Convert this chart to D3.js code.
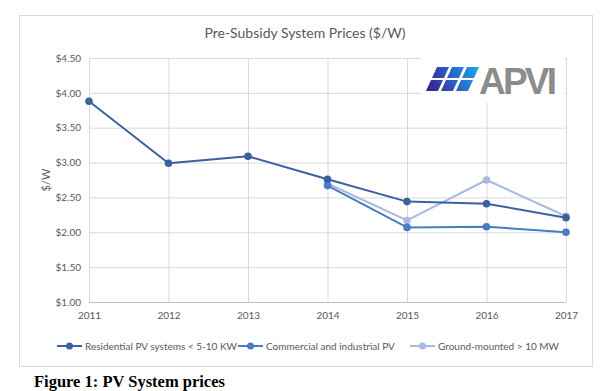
<!DOCTYPE html>
<html><head><meta charset="utf-8">
<script src="https://cdn.jsdelivr.net/npm/d3@7"></script>
<style>body{margin:0;background:#fff}svg{display:block}</style>
</head><body>
<svg id="c" width="600" height="391"></svg>
<script>
const years = [2011, 2012, 2013, 2014, 2015, 2016, 2017];
const residential = [3.88, 2.99, 3.09, 2.76, 2.44, 2.41, 2.21];
const commercial = [null, null, null, 2.67, 2.07, 2.08, 2.00];
const ground = [null, null, null, 2.70, 2.17, 2.75, 2.23];
const yTicks = [1.0, 1.5, 2.0, 2.5, 3.0, 3.5, 4.0, 4.5];
const seriesNames = ["Residential PV systems < 5-10 KW", "Commercial and industrial PV", "Ground-mounted > 10  MW"];
const seriesColors = ["#3b62a0", "#4a7cc4", "#a9badf"];
const seriesData = [residential, commercial, ground];

const svg = d3.select("#c");
const font = "Lato, 'Open Sans', sans-serif";
// outer frame
svg.append("rect").attr("x", 19.5).attr("y", 15.5).attr("width", 573).attr("height", 351)
  .attr("fill", "#fff").attr("stroke", "#d9d9d9");

const x = d3.scaleLinear().domain([2011, 2017]).range([89, 566]);
const y = d3.scaleLinear().domain([1, 4.5]).range([302, 58]);

// grid
svg.append("g").selectAll("line").data(yTicks).join("line")
  .attr("x1", x(2011)).attr("x2", x(2017)).attr("y1", d => y(d) + 0.5).attr("y2", d => y(d) + 0.5)
  .attr("stroke", d => d === 1 ? "#bfbfbf" : "#d9d9d9");
svg.append("g").selectAll("line").data(years).join("line")
  .attr("x1", d => x(d) + 0.5).attr("x2", d => x(d) + 0.5).attr("y1", y(4.5)).attr("y2", y(1))
  .attr("stroke", "#d9d9d9");

// axes labels
const yAxis = d3.axisLeft(y).tickValues(yTicks).tickFormat(d3.format("$.2f")).tickSize(0).tickPadding(8);
const gy = svg.append("g").attr("transform", `translate(${x(2011)},0)`).call(yAxis);
gy.select(".domain").remove();
gy.selectAll("text").attr("fill", "#595959").style("font", `10px ${font}`);
const xAxis = d3.axisBottom(x).tickValues(years).tickFormat(d3.format("d")).tickSize(0).tickPadding(10);
const gx = svg.append("g").attr("transform", `translate(0,${y(1)})`).call(xAxis);
gx.select(".domain").remove();
gx.selectAll("text").attr("fill", "#595959").style("font", `10px ${font}`);

svg.append("text").attr("transform", `translate(50,${y(2.75)}) rotate(-90)`).attr("text-anchor", "middle")
  .attr("fill", "#595959").style("font", `11px ${font}`).text("$/W");

svg.append("text").attr("x", 305).attr("y", 38).attr("text-anchor", "middle")
  .attr("fill", "#595959").style("font", `14px ${font}`).text("Pre-Subsidy System Prices ($/W)");

// logo area
svg.append("rect").attr("x", 421).attr("y", 57).attr("width", 143).attr("height", 46).attr("fill", "#fff");
const defs = svg.append("defs");
const grad = defs.append("linearGradient").attr("id", "lg").attr("gradientUnits", "userSpaceOnUse")
  .attr("x1", 428).attr("y1", 90).attr("x2", 478).attr("y2", 66);
grad.append("stop").attr("offset", "0").attr("stop-color", "#3b1c8c");
grad.append("stop").attr("offset", "0.5").attr("stop-color", "#2b62c4");
grad.append("stop").attr("offset", "1").attr("stop-color", "#1aa8e6");
const cells = [];
for (let r = 0; r < 2; r++) for (let c = 0; c < 3; c++) cells.push([r, c]);
svg.append("g").selectAll("path").data(cells).join("path")
  .attr("d", ([r, c]) => {
    const y0 = 67 + r * 13, h = 11, sk = 5;
    const x0 = 432 + c * 15 - r * 6;
    return `M${x0 + sk},${y0} L${x0 + sk + 12},${y0} L${x0 + 12},${y0 + h} L${x0},${y0 + h} Z`;
  })
  .attr("fill", "url(#lg)");
svg.append("text").attr("x", 479).attr("y", 94).attr("fill", "#8c8c8c")
  .style("font", `bold 37px 'Liberation Sans', Arial, sans-serif`).attr("textLength", 78).text("APVI");

// series
const line = d3.line().defined(d => d[1] != null).x(d => x(d[0])).y(d => y(d[1]));
const order = [2, 1, 0];
order.forEach(i => {
  const pts = years.map((yr, k) => [yr, seriesData[i][k]]);
  svg.append("path").datum(pts).attr("d", line).attr("fill", "none")
    .attr("stroke", seriesColors[i]).attr("stroke-width", 2).attr("stroke-linejoin", "round");
  svg.append("g").selectAll("circle").data(pts.filter(d => d[1] != null)).join("circle")
    .attr("cx", d => x(d[0])).attr("cy", d => y(d[1])).attr("r", 3.8).attr("fill", seriesColors[i]);
});

// legend
const legX = [57, 238, 410];
const lg = svg.append("g");
seriesNames.forEach((n, i) => {
  const g = lg.append("g").attr("transform", `translate(${legX[i]},346)`);
  g.append("line").attr("x1", 0).attr("x2", 25).attr("stroke", seriesColors[i]).attr("stroke-width", 2);
  g.append("circle").attr("cx", 12.5).attr("r", 3.5).attr("fill", seriesColors[i]);
  g.append("text").attr("x", 28).attr("y", 3.5).attr("fill", "#595959").style("font", `10px ${font}`).text(n);
});

svg.append("text").attr("x", 34).attr("y", 387).attr("fill", "#000")
  .style("font", `bold 16.5px 'Liberation Serif', 'DejaVu Serif', serif`).text("Figure 1: PV System prices");
</script>
</body></html>
